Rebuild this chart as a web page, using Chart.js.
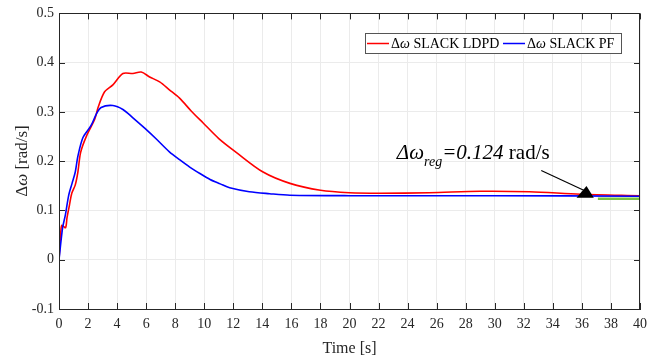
<!DOCTYPE html>
<html>
<head>
<meta charset="utf-8">
<script src="https://cdn.jsdelivr.net/npm/chart.js@4"></script>
<style>
  html, body { margin: 0; padding: 0; background: #fff; }
  #wrap { width: 660px; height: 357px; }
</style>
</head>
<body>
<div id="wrap"><canvas id="chart"></canvas></div>
<script>
// time [s] and delta omega [rad/s]
const tRed = [0, 0.14, 0.2, 0.45, 0.55, 0.72, 0.88, 1.12, 1.3, 1.49, 1.89, 2.46, 2.7, 3.14, 3.71, 4.4, 5.09, 5.66, 6.24, 6.93, 7.6, 8.3, 9.1, 9.91, 11.0, 12.2, 14.05, 15.9, 18, 20, 22.1, 25.5, 29, 32.4, 35.9, 40];
const vRed = [0, 0.063, 0.07, 0.065, 0.085, 0.111, 0.135, 0.152, 0.178, 0.218, 0.251, 0.285, 0.31, 0.341, 0.355, 0.378, 0.378, 0.381, 0.371, 0.361, 0.345, 0.328, 0.302, 0.278, 0.246, 0.218, 0.178, 0.155, 0.141, 0.136, 0.135, 0.136, 0.139, 0.138, 0.133, 0.130];

const tBlue = [0, 0.25, 0.44, 0.67, 0.9, 1.12, 1.3, 1.65, 2.2, 2.56, 2.9, 3.71, 4.4, 5.09, 5.9, 6.7, 7.6, 8.3, 9.0, 9.7, 10.4, 11.1, 11.75, 13.1, 14.5, 15.9, 20, 30, 40];
const vBlue = [0, 0.065, 0.091, 0.131, 0.155, 0.178, 0.21, 0.248, 0.272, 0.295, 0.309, 0.313, 0.305, 0.288, 0.267, 0.245, 0.219, 0.203, 0.188, 0.175, 0.163, 0.154, 0.146, 0.138, 0.134, 0.131, 0.130, 0.130, 0.129];

const tReg = [37.1, 40];
const vReg = [0.124, 0.124];

const legendLabels = ['SLACK LDPD', 'SLACK PF'];
const regText = '=0.124';

const ink = '#262626';
const serif = "'Liberation Serif', 'Times New Roman', serif";

function pts(t, v) { return t.map((x, i) => ({ x: x, y: v[i] })); }

const decor = {
  id: 'decor',
  afterDraw(chart) {
    const ctx = chart.ctx;
    const a = chart.chartArea;
    const xs = chart.scales.x, ys = chart.scales.y;
    ctx.save();
    // box + inward ticks
    ctx.strokeStyle = ink;
    ctx.lineWidth = 1;
    ctx.strokeRect(Math.round(a.left) + 0.5, Math.round(a.top) + 0.5, Math.round(a.right - a.left) - 1, Math.round(a.bottom - a.top));
    ctx.beginPath();
    xs.ticks.forEach(t => {
      const px = Math.round(xs.getPixelForValue(t.value)) + 0.5;
      ctx.moveTo(px, a.bottom); ctx.lineTo(px, a.bottom - 6);
      ctx.moveTo(px, a.top); ctx.lineTo(px, a.top + 6);
    });
    ys.ticks.forEach(t => {
      const py = Math.round(ys.getPixelForValue(t.value)) + 0.5;
      ctx.moveTo(a.left, py); ctx.lineTo(a.left + 6, py);
      ctx.moveTo(a.right, py); ctx.lineTo(a.right - 6, py);
    });
    ctx.stroke();

    // y axis title with italic omega
    ctx.save();
    ctx.translate(27, 161);
    ctx.rotate(-Math.PI / 2);
    ctx.fillStyle = ink;
    const p1 = 'Δ', p2 = 'ω', p3 = ' [rad/s]';
    ctx.font = '17px ' + serif;
    const w1 = ctx.measureText(p1).width, w3 = ctx.measureText(p3).width;
    ctx.font = 'italic 17px ' + serif;
    const w2 = ctx.measureText(p2).width;
    let x0 = -(w1 + w2 + w3) / 2;
    ctx.font = '17px ' + serif; ctx.fillText(p1, x0, 0); x0 += w1;
    ctx.font = 'italic 17px ' + serif; ctx.fillText(p2, x0, 0); x0 += w2;
    ctx.font = '17px ' + serif; ctx.fillText(p3, x0, 0);
    ctx.restore();

    // legend
    ctx.fillStyle = '#fff';
    ctx.fillRect(365, 33, 256, 20);
    ctx.strokeStyle = '#555';
    ctx.strokeRect(365.5, 33.5, 256, 20);
    const items = [
      { color: '#ff0000', x: 367, label: legendLabels[0] },
      { color: '#0000ff', x: 503, label: legendLabels[1] }
    ];
    items.forEach(it => {
      ctx.strokeStyle = it.color;
      ctx.lineWidth = 1.5;
      ctx.beginPath();
      ctx.moveTo(it.x, 43.5); ctx.lineTo(it.x + 22, 43.5);
      ctx.stroke();
      ctx.fillStyle = '#000';
      let tx = it.x + 24;
      ctx.font = '14px ' + serif; ctx.fillText('Δ', tx, 48); tx += ctx.measureText('Δ').width;
      ctx.font = 'italic 14px ' + serif; ctx.fillText('ω', tx, 48); tx += ctx.measureText('ω').width;
      ctx.font = '14px ' + serif; ctx.fillText(' ' + it.label, tx, 48);
    });

    // annotation text
    ctx.fillStyle = '#000';
    let ax = xs.getPixelForValue(23.26), ay = ys.getPixelForValue(0.204);
    ctx.font = 'italic 21px ' + serif; ctx.fillText('Δω', ax, ay); ax += ctx.measureText('Δω').width;
    ctx.font = 'italic 14px ' + serif; ctx.fillText('reg', ax, ay + 7); ax += ctx.measureText('reg').width;
    ctx.font = 'italic 21px ' + serif; ctx.fillText(regText, ax, ay); ax += ctx.measureText(regText).width;
    ctx.font = '21px ' + serif; ctx.fillText(' rad/s', ax, ay);

    // arrow
    const sx = xs.getPixelForValue(33.2), sy = ys.getPixelForValue(0.181);
    const ex = xs.getPixelForValue(36.2), ey = ys.getPixelForValue(0.14);
    ctx.strokeStyle = '#000';
    ctx.lineWidth = 1.2;
    ctx.beginPath(); ctx.moveTo(sx, sy); ctx.lineTo(ex, ey); ctx.stroke();
    ctx.beginPath();
    ctx.moveTo(ex + 1.7, ey - 4.7);
    ctx.lineTo(ex - 8.3, ey + 7);
    ctx.lineTo(ex + 9, ey + 7);
    ctx.closePath();
    ctx.fillStyle = '#000';
    ctx.fill();
    ctx.restore();
  }
};

new Chart(document.getElementById('chart'), {
  type: 'line',
  data: {
    datasets: [
      { label: 'LDPD', data: pts(tRed, vRed), borderColor: '#ff0000', borderWidth: 1.6, pointRadius: 0, tension: 0.3, order: 3 },
      { label: 'PF', data: pts(tBlue, vBlue), borderColor: '#0000ff', borderWidth: 1.6, pointRadius: 0, tension: 0.3, order: 2 },
      { label: 'reg', data: pts(tReg, vReg), borderColor: '#7ac143', borderWidth: 2.5, pointRadius: 0, order: 1 }
    ]
  },
  options: {
    responsive: true,
    maintainAspectRatio: false,
    animation: false,
    layout: { padding: { left: 0, top: 9, right: 20, bottom: 0 } },
    plugins: { legend: { display: false }, tooltip: { enabled: false } },
    scales: {
      x: {
        type: 'linear', min: 0, max: 40,
        afterFit: s => { s.height = 48; },
        ticks: { stepSize: 2, color: ink, padding: 7, font: { family: serif, size: 14 } },
        grid: { color: '#ebebeb', drawTicks: false },
        border: { color: ink },
        title: { display: true, text: 'Time [s]', color: ink, padding: 0, font: { family: serif, size: 16, lineHeight: 1 } }
      },
      y: {
        min: -0.1, max: 0.5,
        afterFit: s => { s.width = 59; },
        ticks: {
          stepSize: 0.1, color: ink, padding: 5, font: { family: serif, size: 14 },
          callback: v => Math.abs(v) < 1e-9 ? '0' : String(Math.round(v * 10) / 10)
        },
        grid: { color: '#ebebeb', drawTicks: false },
        border: { color: ink }
      }
    }
  },
  plugins: [decor]
});
</script>
</body>
</html>
